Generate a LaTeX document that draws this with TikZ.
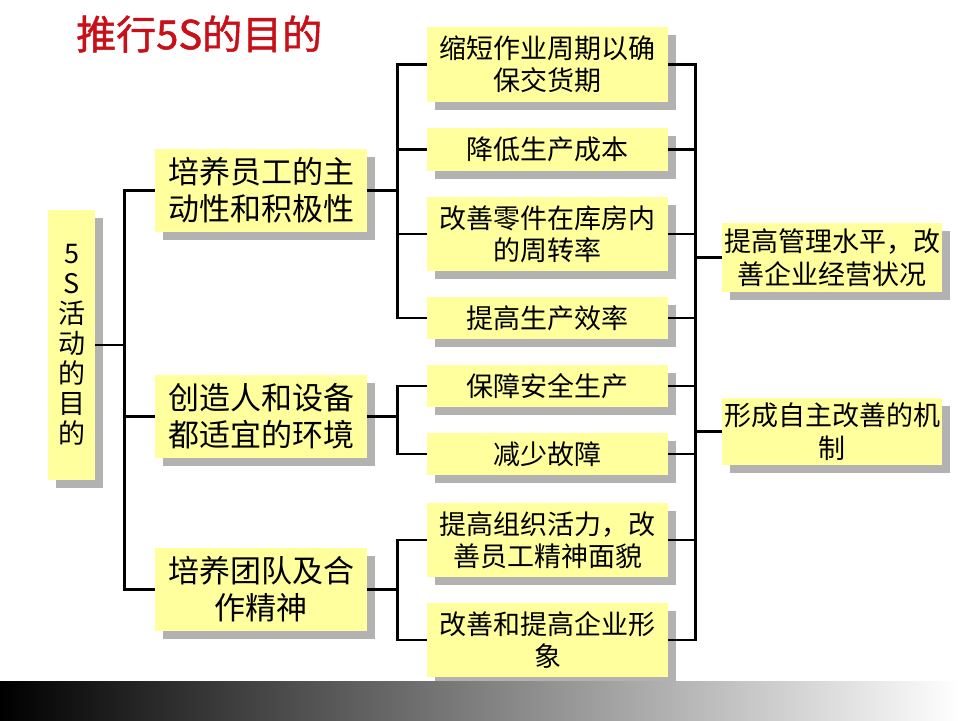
\documentclass[tikz,border=0pt]{standalone}
\usepackage{fontspec}
\setmainfont{Noto Sans CJK SC}
\newfontfamily\titlefont[FakeBold=1.2]{Noto Sans CJK SC}
\usetikzlibrary{shadows}
\definecolor{boxyellow}{RGB}{255,255,158}
\definecolor{shadowgray}{RGB}{178,178,178}
\definecolor{titlered}{RGB}{200,16,24}
\tikzset{
  ybox/.style={fill=boxyellow, inner sep=0pt, align=center,
    general shadow={fill=shadowgray, shadow xshift=8pt, shadow yshift=-8pt}},
  lone/.style={ybox, minimum width=212pt, minimum height=83pt,
    font=\fontsize{31}{37}\selectfont},
  ltwo/.style={ybox, minimum width=241pt,
    font=\fontsize{27}{32}\selectfont},
  rbox/.style={ybox, minimum width=220pt,
    font=\fontsize{27}{33}\selectfont},
  conn/.style={line width=2.8pt, black},
}
\begin{document}
\begin{tikzpicture}[x=1pt, y=-1pt]
\useasboundingbox (0,0) rectangle (960,720);
\fill[white] (0,0) rectangle (960,720);

\node[anchor=west, text=titlered, font=\titlefont\fontsize{40}{40}\selectfont, inner sep=0pt] (title) at (76,34) {推行5S的目的};

\node[ybox, minimum width=47pt, minimum height=270pt, font=\fontsize{27}{30}\selectfont] (root) at (71.5,345) {5\\S\\活\\动\\的\\目\\的};

\node[lone] (l1a) at (261,190.5) {培养员工的主\\动性和积极性};
\node[lone] (l1b) at (261,416.5) {创造人和设备\\都适宜的环境};
\node[lone] (l1c) at (261,589.5) {培养团队及合\\作精神};

\node[ltwo, minimum height=75pt] (l2a) at (547.5,64.5) {缩短作业周期以确\\保交货期};
\node[ltwo, minimum height=43pt] (l2b) at (547.5,149.5) {降低生产成本};
\node[ltwo, minimum height=74pt] (l2c) at (547.5,234) {改善零件在库房内\\的周转率};
\node[ltwo, minimum height=42pt] (l2d) at (547.5,318) {提高生产效率};
\node[ltwo, minimum height=42pt] (l2e) at (547.5,386) {保障安全生产};
\node[ltwo, minimum height=42pt] (l2f) at (547.5,454) {减少故障};
\node[ltwo, minimum height=74pt] (l2g) at (547.5,540) {提高组织活力，改\\善员工精神面貌};
\node[ltwo, minimum height=74pt] (l2h) at (547.5,640) {改善和提高企业形\\象};

\node[rbox, minimum height=69pt] (r1) at (832,257.5) {提高管理水平，改\\善企业经营状况};
\node[rbox, minimum height=67pt] (r2) at (832,431.5) {形成自主改善的机\\制};

% root to level 1
\draw[conn] (root.east) -- ++(30,0);
\draw[conn] (l1a.west) -- ++(-30,0) |- (l1c.west);
\draw[conn] (l1b.west) -- ++(-30,0);

% level 1 to level 2
\draw[conn] (l1a.east) -- ++(31,0);
\draw[conn] (l2a.west) -- ++(-29,0) |- (l2d.west);
\draw[conn] (l2b.west) -- ++(-29,0);
\draw[conn] (l2c.west) -- ++(-29,0);

\draw[conn] (l1b.east) -- ++(31,0);
\draw[conn] (l2e.west) -- ++(-29,0) |- (l2f.west);

\draw[conn] (l1c.east) -- ++(31,0);
\draw[conn] (l2g.west) -- ++(-29,0) |- (l2h.west);

% level 2 to right
\draw[conn] (l2a.east) -- ++(27,0) |- (l2h.east);
\foreach \n in {l2b,l2c,l2d,l2e,l2f,l2g} \draw[conn] (\n.east) -- ++(27,0);
\draw[conn] (r1.west) -- ++(-27,0);
\draw[conn] (r2.west) -- ++(-27,0);

% bottom gradient bar
\shade[left color=black, right color=white] (0,681) rectangle (960,720);
\end{tikzpicture}
\end{document}
